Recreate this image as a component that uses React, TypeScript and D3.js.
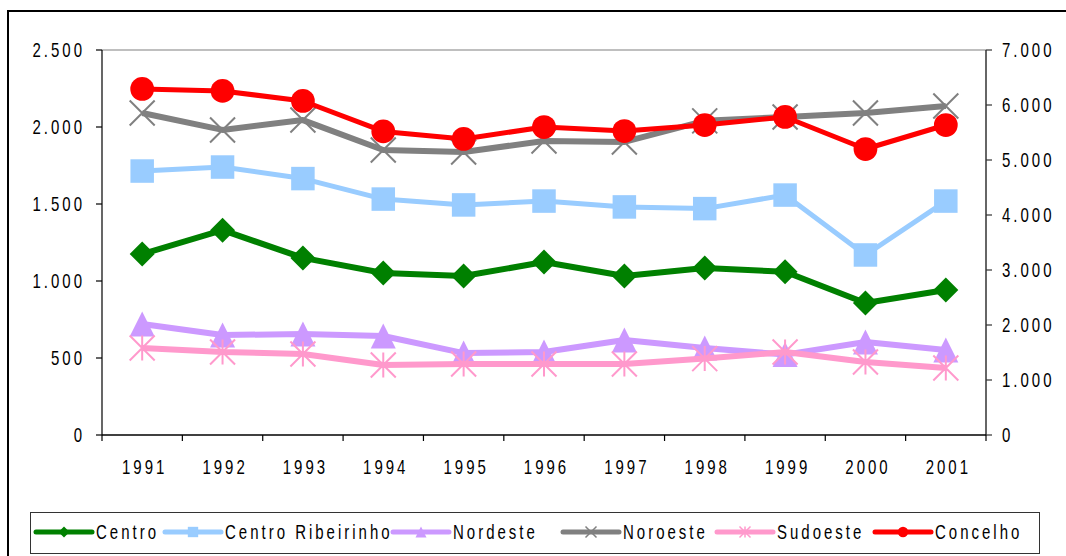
import * as d3 from 'd3';

// data
const years = ['1991', '1992', '1993', '1994', '1995', '1996', '1997', '1998', '1999', '2000', '2001'];
const centro = [1175, 1330, 1150, 1052, 1032, 1123, 1032, 1084, 1060, 857, 942];
const centroRibeirinho = [1714, 1740, 1665, 1532, 1494, 1519, 1481, 1470, 1558, 1169, 1519];
const nordeste = [721, 649, 656, 643, 532, 539, 617, 565, 522, 604, 552];
const noroeste = [2091, 1981, 2045, 1851, 1838, 1909, 1903, 2040, 2065, 2091, 2136];
const sudoeste = [565, 539, 526, 455, 461, 461, 461, 496, 539, 474, 435];
const concelho = [6291, 6255, 6073, 5520, 5382, 5600, 5527, 5636, 5782, 5200, 5636];
const leftTicks = [0, 500, 1000, 1500, 2000, 2500];
const rightTicks = [0, 1000, 2000, 3000, 4000, 5000, 6000, 7000];

type Marker = 'diamond' | 'square' | 'triangle' | 'x' | 'star' | 'circle';
type Series = {
  name: string;
  values: number[];
  color: string;
  marker: Marker;
  width: number;
  axis: 'left' | 'right';
};

const series: Series[] = [
  { name: 'Centro', values: centro, color: '#008000', marker: 'diamond', width: 6, axis: 'left' },
  { name: 'Centro Ribeirinho', values: centroRibeirinho, color: '#99CCFF', marker: 'square', width: 5, axis: 'left' },
  { name: 'Nordeste', values: nordeste, color: '#CC99FF', marker: 'triangle', width: 6, axis: 'left' },
  { name: 'Noroeste', values: noroeste, color: '#808080', marker: 'x', width: 6, axis: 'left' },
  { name: 'Sudoeste', values: sudoeste, color: '#FF99CC', marker: 'star', width: 6, axis: 'left' },
  { name: 'Concelho', values: concelho, color: '#FF0000', marker: 'circle', width: 5, axis: 'right' }
];

const W = 1066;
const H = 556;
const plot = { left: 102, right: 986, top: 50, bottom: 435 };
const legendX = [36, 165, 393, 563, 717, 875];

const fmt = d3.formatLocale({ decimal: ',', thousands: '.', grouping: [3], currency: ['', ''] }).format(',');

const SPACING = 4;

// Excel-ish narrow text: regular sans squeezed horizontally
function Label({ x, y, anchor = 'start', children }: { x: number; y: number; anchor?: 'start' | 'middle' | 'end'; children: string }) {
  return (
    <g transform={`translate(${x},${y}) scale(0.75,1)`}>
      <text
        x={anchor === 'end' ? SPACING : anchor === 'middle' ? SPACING / 2 : 0}
        y={0}
        textAnchor={anchor}
        dominantBaseline="central"
        style={{ fontFamily: '"Liberation Sans", Arial, sans-serif', fontSize: 20, letterSpacing: SPACING, fill: '#000' }}
      >
        {children}
      </text>
    </g>
  );
}

function MarkerShape({ type, cx, cy, s, color }: { type: Marker; cx: number; cy: number; s: number; color: string }) {
  const h = s / 2;
  switch (type) {
    case 'diamond':
      return <path d={`M${cx},${cy - h}L${cx + h},${cy}L${cx},${cy + h}L${cx - h},${cy}Z`} fill={color} />;
    case 'square':
      return <rect x={cx - h * 0.94} y={cy - h * 0.94} width={s * 0.94} height={s * 0.94} fill={color} />;
    case 'triangle':
      return <path d={`M${cx},${cy - h}L${cx + h},${cy + h}L${cx - h},${cy + h}Z`} fill={color} />;
    case 'circle':
      return <circle cx={cx} cy={cy} r={h * 0.95} fill={color} />;
    case 'x':
      return (
        <path
          d={`M${cx - h},${cy - h}L${cx + h},${cy + h}M${cx - h},${cy + h}L${cx + h},${cy - h}`}
          stroke={color}
          strokeWidth={s > 15 ? 2 : 1.5}
          fill="none"
        />
      );
    case 'star':
      return (
        <path
          d={`M${cx - h},${cy - h}L${cx + h},${cy + h}M${cx - h},${cy + h}L${cx + h},${cy - h}M${cx},${cy - h}L${cx},${cy + h}`}
          stroke={color}
          strokeWidth={s > 15 ? 2 : 1.5}
          fill="none"
        />
      );
  }
}

export default function App() {
  const x = d3.scaleBand<string>().domain(years).range([plot.left, plot.right]).padding(0);
  const cx = (yr: string) => (x(yr) as number) + x.bandwidth() / 2;
  const yL = d3.scaleLinear().domain([0, 2500]).range([plot.bottom, plot.top]);
  const yR = d3.scaleLinear().domain([0, 7000]).range([plot.bottom, plot.top]);

  return (
    <svg width={W} height={H} style={{ position: 'absolute', left: 0, top: 0 }}>
      <rect x={0} y={0} width={W} height={H} fill="#fff" />
      <rect x={8} y={11} width={W + 20} height={H + 20} fill="none" stroke="#000" strokeWidth={2} />

      {/* plot frame */}
      <line x1={plot.left} x2={plot.right} y1={plot.top} y2={plot.top} stroke="#808080" strokeWidth={1.2} />
      <line x1={plot.left} x2={plot.left} y1={plot.top} y2={plot.bottom} stroke="#000" strokeWidth={1.2} />
      <line x1={plot.right} x2={plot.right} y1={plot.top} y2={plot.bottom} stroke="#333" strokeWidth={1.5} />
      <line x1={plot.left} x2={plot.right} y1={plot.bottom} y2={plot.bottom} stroke="#000" strokeWidth={1.5} />

      {/* left axis */}
      {leftTicks.map((t) => (
        <g key={'l' + t}>
          <line x1={plot.left - 6} x2={plot.left} y1={yL(t)} y2={yL(t)} stroke="#000" strokeWidth={1.2} />
          <Label x={plot.left - 20} y={yL(t)} anchor="end">
            {fmt(t)}
          </Label>
        </g>
      ))}

      {/* right axis */}
      {rightTicks.map((t) => (
        <g key={'r' + t}>
          <line x1={plot.right} x2={plot.right + 6} y1={yR(t)} y2={yR(t)} stroke="#333" strokeWidth={1.2} />
          <Label x={plot.right + 16} y={yR(t)}>
            {fmt(t)}
          </Label>
        </g>
      ))}

      {/* x axis */}
      {[...years.map((yr) => x(yr) as number), plot.right].map((p, i) => (
        <line key={'xt' + i} x1={p} x2={p} y1={plot.bottom} y2={plot.bottom + 6} stroke="#000" strokeWidth={1.2} />
      ))}
      {years.map((yr) => (
        <Label key={'xl' + yr} x={cx(yr) + 1} y={plot.bottom + 32} anchor="middle">
          {yr}
        </Label>
      ))}

      {/* series */}
      {series.map((s) => {
        const y = s.axis === 'left' ? yL : yR;
        const line = d3
          .line<number>()
          .x((_, i) => cx(years[i]))
          .y((v) => y(v));
        return (
          <g key={s.name}>
            <path d={line(s.values) as string} fill="none" stroke={s.color} strokeWidth={s.width} strokeLinejoin="round" />
            {s.values.map((v, i) => (
              <MarkerShape key={i} type={s.marker} cx={cx(years[i])} cy={y(v)} s={25} color={s.color} />
            ))}
          </g>
        );
      })}

      {/* legend */}
      <rect x={30.5} y={512.5} width={1009} height={41} fill="#fff" stroke="#333" strokeWidth={1} />
      {series.map((s, i) => (
        <g key={'lg' + s.name}>
          <line x1={legendX[i]} x2={legendX[i] + 56} y1={532} y2={532} stroke={s.color} strokeWidth={5} strokeLinecap="round" />
          <MarkerShape type={s.marker} cx={legendX[i] + 28} cy={532} s={11} color={s.color} />
          <Label x={legendX[i] + 60} y={532}>
            {s.name}
          </Label>
        </g>
      ))}
    </svg>
  );
}
